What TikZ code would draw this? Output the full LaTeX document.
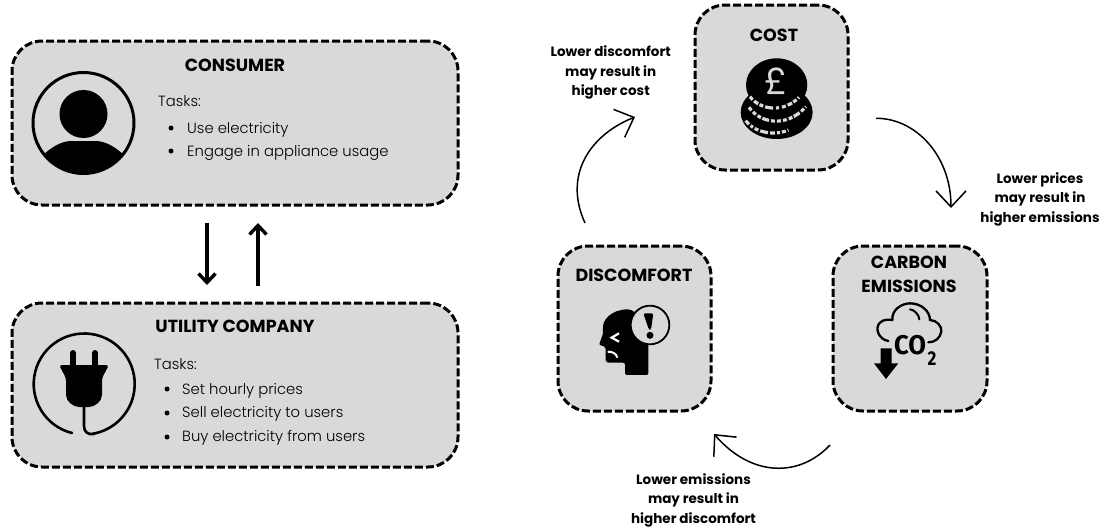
\documentclass[tikz,border=0pt]{standalone}
\usepackage{fontspec}
\setmainfont{Poppins}
\newfontfamily\hd{Poppins}
\newfontfamily\lt{Poppins Light}
\newfontfamily\icn{Fira Sans}
\usetikzlibrary{arrows.meta}
\definecolor{panel}{HTML}{D9D9D9}
\tikzset{
 panelbox/.style={draw=black,fill=panel,line width=3pt,rounded corners=30pt,dash pattern=on 8pt off 3pt,inner sep=0pt},
 head/.style={font=\hd\fontsize{17.5}{24}\selectfont\bfseries,align=center,text=black},
 task/.style={font=\lt\fontsize{14.8}{23}\selectfont,anchor=base west,text=black,inner sep=0pt},
 dot/.style={circle,fill=black,inner sep=0pt,minimum size=5pt},
 note/.style={font=\hd\fontsize{13.5}{19.5}\selectfont\bfseries,align=center,text=black},
 bigarrow/.style={line width=3.4pt,-{Straight Barb[length=9pt,width=17pt,line width=3.4pt]}},
 arcarrow/.style={line width=1.5pt,-{Straight Barb[length=16pt,width=30pt,line width=1.5pt]}},
 coinline/.style={draw=panel,line width=3.2pt},
}
\begin{document}
\begin{tikzpicture}[x=1pt,y=-1pt]
\useasboundingbox (0,0) rectangle (1104,530);
% panels
\node[panelbox,minimum width=446pt,minimum height=164pt] (consumer) at (235,123) {};
\node[panelbox,minimum width=446pt,minimum height=164pt] (utility) at (235,385) {};
\node[panelbox,minimum width=153pt,minimum height=165pt] (cost) at (771.5,87.5) {};
\node[panelbox,minimum width=154pt,minimum height=165pt] (carbon) at (910,328.5) {};
\node[panelbox,minimum width=153pt,minimum height=165pt] (discomfort) at (634.5,328.5) {};
% headings
\node[head] (hconsumer) at (235,65) {CONSUMER};
\node[head] (hutility) at (235,326) {UTILITY COMPANY};
\node[head] (hcost) at (774,35) {COST};
\node[head] (hdisc) at (634,275) {DISCOMFORT};
\node[head] (hcarbon) at (909,274) {CARBON\\EMISSIONS};
% consumer text
\node[task] (t1) at (158,106) {Tasks:};
\node[dot] (d1) at (171,128) {};
\node[task] (t2) at (187,133) {Use electricity};
\node[dot] (d2) at (171,151) {};
\node[task] (t3) at (187,156) {Engage in appliance usage};
% utility text
\node[task] (u1) at (154,369) {Tasks:};
\node[dot] (e1) at (167,389) {};
\node[task] (u2) at (182,394) {Set hourly prices};
\node[dot] (e2) at (167,413) {};
\node[task] (u3) at (182,417) {Sell electricity to users};
\node[dot] (e3) at (167,437) {};
\node[task] (u4) at (182,441) {Buy electricity from users};
% person icon
\draw[line width=3pt] (83.5,123) circle (50.5);
\fill (83.5,114) circle (24);
\begin{scope}
\clip (83.5,123) circle (51);
\fill (30,180) -- (40,158) .. controls (52,146) and (62,141) .. (72,141) -- (95,141) .. controls (105,141) and (115,146) .. (127,158) -- (137,180) -- cycle;
\end{scope}
% plug icon
\draw[line width=2.6pt,line cap=round] (72,433) arc[start angle=104,end angle=440,radius=50.5];
\fill[rounded corners=3pt] (59,365) -- (109,365) -- (102,378) -- (102,392) .. controls (102,402) and (94,407) .. (86,407) -- (82,407) .. controls (74,407) and (66,402) .. (66,392) -- (66,378) -- cycle;
\draw[line width=6pt,line cap=round] (73,353) -- (73,368);
\draw[line width=6pt,line cap=round] (95,353) -- (95,368);
\draw[line width=2.6pt,line cap=round] (84,405) -- (84,426) .. controls (84,432) and (88,435) .. (94,434);
% double arrows
\coordinate (dn1) at (207,223);
\coordinate (dn2) at (207,285);
\coordinate (up1) at (258,286);
\coordinate (up2) at (258,223);
\draw[bigarrow] (dn1) -- (dn2);
\draw[bigarrow] (up1) -- (up2);
% coins
\begin{scope}[shift={(730,50)},x=0.3333pt,y=-0.3333pt]
\fill (140,187) ellipse (108 and 80);
\fill (140,105) ellipse (92 and 80);
\draw[coinline,dash pattern=on 4pt off 2pt on 5pt off 1.5pt on 4pt off 2pt on 8pt off 3pt on 3pt off 3pt] (60,140) .. controls (90,180) and (160,190) .. (207,142);
\draw[coinline,dash pattern=on 4pt off 2pt on 4pt off 2pt on 4pt off 1.5pt on 7pt off 2pt on 4pt off 2pt] (57,172) .. controls (90,220) and (170,235) .. (228,170);
\draw[coinline,dash pattern=on 5pt off 2pt on 3pt off 2pt on 4pt off 2pt on 8pt off 2pt] (47,212) .. controls (70,245) and (130,260) .. (175,240);
\end{scope}
\node[font=\hd\fontsize{37}{37}\selectfont,text=panel,inner sep=0pt] (pound) at (776,81) {£};
% cloud
\begin{scope}[shift={(820,240)},x=0.3333pt,y=-0.3333pt]
\draw[line width=2.3pt,line cap=round] (205,303) .. controls (175,298) and (165,265) .. (178,250) .. controls (190,235) and (210,240) .. (217,240) .. controls (215,205) and (250,190) .. (270,190) .. controls (305,190) and (330,215) .. (330,240) .. controls (350,240) and (367,260) .. (364,275) .. controls (360,295) and (345,307) .. (325,307);
\draw[line width=2pt,line cap=round] (270,208) .. controls (285,210) and (297,225) .. (298,238);
\fill (182,325) rectangle (215,370) (162,370) -- (235,370) -- (198,417) -- cycle;
\end{scope}
\node[font=\icn\fontsize{27}{27}\selectfont\bfseries,inner sep=0pt,xscale=.95] (co) at (910,345) {CO};
\node[font=\icn\bfseries\fontsize{20}{20}\selectfont,inner sep=0pt,xscale=.85] (two) at (932,359) {2};
% discomfort head
\begin{scope}[shift={(595,300)},x=0.3333pt,y=-0.3333pt]
\fill[rounded corners=2pt] (160,225) -- (90,225) -- (90,188) -- (45,188) .. controls (38,188) and (32,182) .. (32,175) -- (32,140) -- (12,135) -- (25,98) .. controls (18,60) and (50,28) .. (105,28) -- (160,60) -- cycle;
\filldraw[fill=panel,draw=black,line width=1.8pt] (165,75) circle (58);
\fill[rounded corners=2pt] (145,40) -- (175,40) -- (168,90) -- (162,90) -- cycle;
\fill (165,106) circle (10.5);
\draw[white,line width=2.2pt] (72,100) -- (50,113) -- (72,125);
\draw[white,line width=2pt] (38,155) .. controls (52,155) and (64,160) .. (67,173);
\end{scope}
% cycle arrows
\coordinate (a1) at (876,118.3);
\coordinate (a2) at (951,208);
\coordinate (b1) at (830,445);
\coordinate (b2) at (714,434);
\coordinate (c1) at (585,223);
\coordinate (c2) at (635,117);
\draw[arcarrow] (a1) .. controls (915,118) and (951,155) .. (a2);
\draw[arcarrow] (b1) .. controls (800,477) and (752,478) .. (b2);
\draw[arcarrow] (c1) .. controls (563,175) and (590,135) .. (c2);
% notes
\node[note] (n1) at (610.7,72.5) {Lower discomfort\\may result in\\higher cost};
\node[note] (n2) at (1040,199) {Lower prices\\may result in\\higher emissions};
\node[note] (n3) at (693.5,500) {Lower emissions\\may result in\\higher discomfort};
\end{tikzpicture}
\end{document}
